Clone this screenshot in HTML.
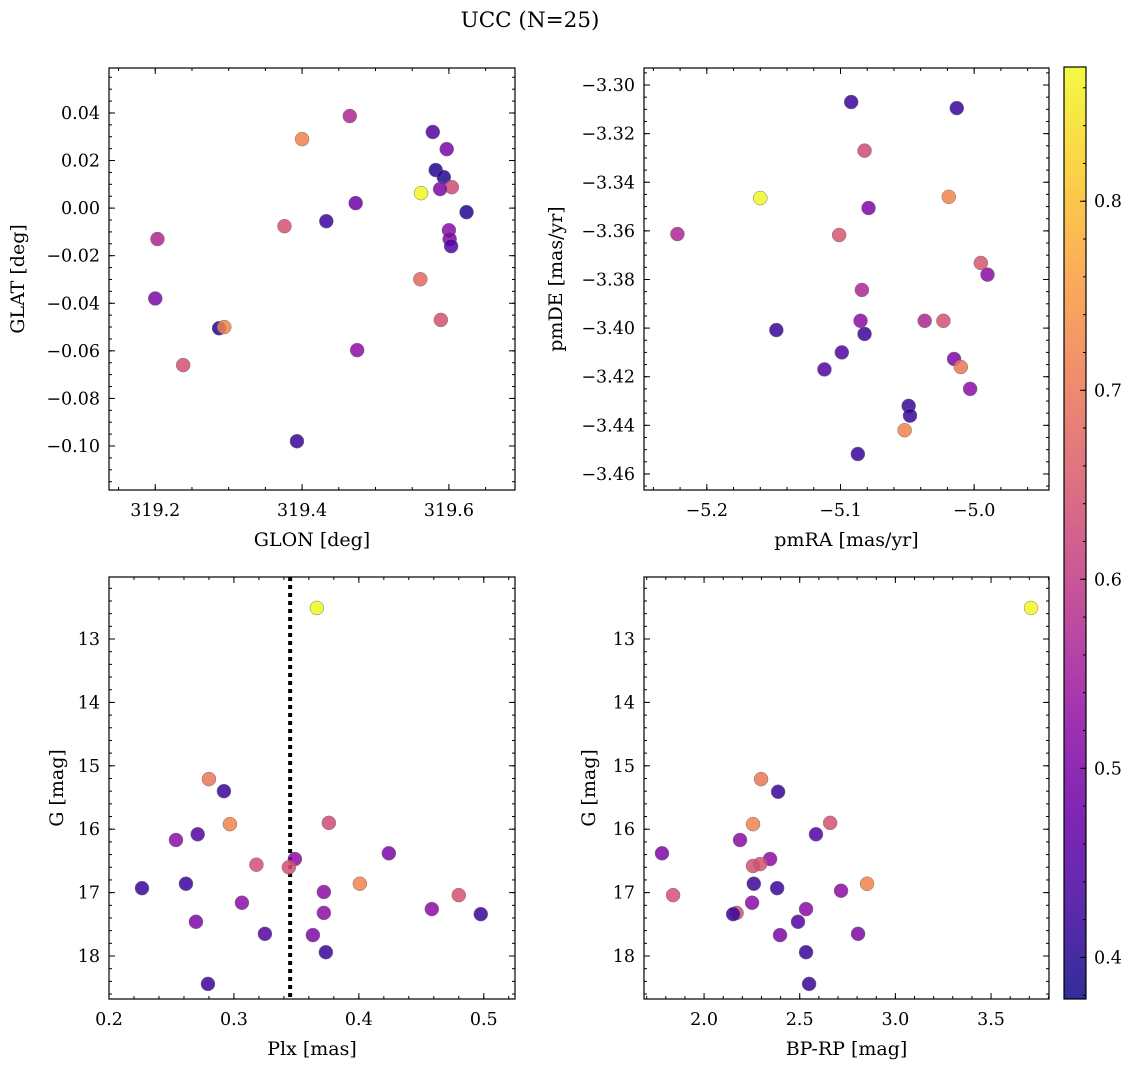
<!DOCTYPE html>
<html><head><meta charset="utf-8"><style>
html,body{margin:0;padding:0;background:#fff}
svg{display:block;font-family:"DejaVu Serif","Liberation Serif",serif}
</style></head><body>
<svg id="fig" width="1136" height="1067" viewBox="0 0 1136 1067" xmlns="http://www.w3.org/2000/svg">
<text x="530" y="27" font-size="21.5" text-anchor="middle">UCC (N=25)</text>
</svg>
<script>
// Panel 1: GLON vs GLAT
const p1X=[319.578,319.465,319.4,319.597,319.582,319.593,319.604,319.562,319.624,319.588,319.473,319.433,319.376,319.6,319.601,319.603,319.203,319.561,319.2,319.287,319.294,319.589,319.475,319.238,319.393];
const p1Y=[0.032,0.0387,0.029,0.0248,0.016,0.013,0.0088,0.0063,-0.0017,0.008,0.0021,-0.0055,-0.0076,-0.0093,-0.013,-0.016,-0.013,-0.0299,-0.038,-0.0505,-0.050,-0.047,-0.0597,-0.066,-0.098];
const p1C=[0.45,0.57,0.72,0.5,0.4,0.4,0.63,0.87,0.4,0.5,0.48,0.42,0.64,0.52,0.5,0.45,0.57,0.68,0.5,0.4,0.72,0.64,0.52,0.64,0.42];
// Panel 2: pmRA vs pmDE
const p2X=[-5.092,-5.013,-5.082,-5.16,-5.019,-5.079,-5.222,-5.101,-4.995,-4.99,-5.084,-5.148,-5.085,-5.082,-5.037,-5.023,-5.099,-5.112,-5.015,-5.01,-5.003,-5.049,-5.048,-5.052,-5.087];
const p2Y=[-3.307,-3.3095,-3.327,-3.3465,-3.346,-3.3506,-3.3613,-3.3617,-3.3732,-3.378,-3.3843,-3.4008,-3.397,-3.4024,-3.397,-3.397,-3.41,-3.417,-3.4127,-3.416,-3.425,-3.432,-3.436,-3.442,-3.4518];
const p2C=[0.42,0.42,0.63,0.87,0.72,0.5,0.57,0.65,0.65,0.52,0.57,0.42,0.52,0.42,0.57,0.64,0.45,0.45,0.5,0.7,0.52,0.42,0.42,0.72,0.42];
// Panel 3: Plx vs G
const p3X=[0.3664,0.28,0.292,0.2968,0.376,0.271,0.2536,0.424,0.3488,0.318,0.344,0.2616,0.4008,0.2264,0.372,0.48,0.3064,0.4584,0.372,0.4976,0.2696,0.3248,0.3632,0.3736,0.2792];
const p3Y=[12.51,15.21,15.40,15.92,15.90,16.08,16.17,16.38,16.47,16.56,16.6,16.86,16.86,16.93,16.99,17.04,17.16,17.26,17.32,17.34,17.46,17.65,17.67,17.94,18.44];
const p3C=[0.87,0.7,0.42,0.72,0.63,0.45,0.52,0.5,0.52,0.64,0.64,0.42,0.72,0.42,0.52,0.64,0.52,0.52,0.52,0.42,0.5,0.45,0.5,0.42,0.42];
const plxLine=0.345;
// Panel 4: BP-RP vs G
const p4X=[3.709,2.298,2.387,2.256,2.659,2.585,2.188,1.78,2.345,2.256,2.293,2.26,2.852,2.382,2.716,1.838,2.251,2.533,2.17,2.152,2.491,2.397,2.805,2.533,2.549];
const p4Y=[12.51,15.21,15.41,15.92,15.9,16.08,16.17,16.38,16.47,16.58,16.55,16.86,16.86,16.93,16.97,17.04,17.16,17.26,17.32,17.34,17.46,17.67,17.65,17.94,18.44];
const p4C=[0.87,0.7,0.42,0.72,0.64,0.45,0.52,0.5,0.52,0.64,0.64,0.42,0.72,0.42,0.52,0.64,0.52,0.52,0.64,0.42,0.45,0.5,0.5,0.42,0.42];
const cbTicks=[0.4,0.5,0.6,0.7,0.8];

const NS="http://www.w3.org/2000/svg";
const svg=document.getElementById('fig');
function el(t,a,p){const e=document.createElementNS(NS,t);for(const k in a)e.setAttribute(k,a[k]);(p||svg).appendChild(e);return e;}
const stops=["#0d0887","#41049d","#6a00a8","#8f0da4","#b12a90","#cc4778","#e16462","#f2844b","#fca636","#fcce25","#f0f921"];
function hex(h){return [1,3,5].map(i=>parseInt(h.substr(i,2),16));}
const cmin=0.378,cmax=0.871;
function plasma(v){let t=(v-cmin)/(cmax-cmin);t=Math.max(0,Math.min(1,t))*10;const i=Math.min(9,Math.floor(t)),f=t-i;const a=hex(stops[i]),b=hex(stops[i+1]);return 'rgb('+a.map((x,k)=>Math.round(x+(b[k]-x)*f)).join(',')+')';}
const TF=17.5, LF=19;

function panel(cfg){
  const {x0,x1,y0,y1,xmin,xmax,ymin,ymax,inv,name}=cfg;
  const g=el('g',{});
  
  
  const sx=v=>x0+(v-xmin)/(xmax-xmin)*(x1-x0);
  const sy=inv?(v=>y0+(v-ymin)/(ymax-ymin)*(y1-y0)):(v=>y1-(v-ymin)/(ymax-ymin)*(y1-y0));
  const dec=(s)=>{const p=(''+s).split('.')[1];return p?p.length:0;};
  const xd=dec(cfg.xmaj), yd=dec(cfg.ymaj);
  function ticks(step,lo,hi){const r=[];let s=Math.ceil(lo/step-1e-6)*step;for(;s<=hi+1e-9;s+=step)r.push(+s.toFixed(6));return r;}
  ticks(cfg.xmin_,xmin,xmax).forEach(v=>{const x=sx(v);el('line',{x1:x,x2:x,y1:y1,y2:y1-3,stroke:'#000','stroke-width':1},g);el('line',{x1:x,x2:x,y1:y0,y2:y0+3,stroke:'#000','stroke-width':1},g);});
  ticks(cfg.ymin_,Math.min(ymin,ymax),Math.max(ymin,ymax)).forEach(v=>{const y=sy(v);el('line',{x1:x0,x2:x0+3,y1:y,y2:y,stroke:'#000','stroke-width':1},g);el('line',{x1:x1,x2:x1-3,y1:y,y2:y,stroke:'#000','stroke-width':1},g);});
  ticks(cfg.xmaj,xmin,xmax).forEach(v=>{const x=sx(v);el('line',{x1:x,x2:x,y1:y1,y2:y1-6,stroke:'#000','stroke-width':1},g);el('line',{x1:x,x2:x,y1:y0,y2:y0+6,stroke:'#000','stroke-width':1},g);
    const t=el('text',{x:x,y:y1+26,'font-size':TF,'text-anchor':'middle'},g);t.textContent=v.toFixed(xd).replace('-','−');});
  ticks(cfg.ymaj,Math.min(ymin,ymax),Math.max(ymin,ymax)).forEach(v=>{const y=sy(v);el('line',{x1:x0,x2:x0+6,y1:y,y2:y,stroke:'#000','stroke-width':1},g);el('line',{x1:x1,x2:x1-6,y1:y,y2:y,stroke:'#000','stroke-width':1},g);
    const t=el('text',{x:x0-9,y:y+6,'font-size':TF,'text-anchor':'end'},g);t.textContent=v.toFixed(yd).replace('-','−');});
  const xl=el('text',{x:(x0+x1)/2,y:y1+56,'font-size':LF,'text-anchor':'middle'},g);xl.textContent=cfg.xlabel;
  
  
  const yl=el('text',{x:0,y:0,'font-size':LF,'text-anchor':'middle',transform:`translate(${cfg.ylx},${(y0+y1)/2}) rotate(-90)`},g);yl.textContent=cfg.ylabel;
  
  
  if(cfg.vline!==undefined){const x=sx(cfg.vline);const l=el('line',{x1:x,x2:x,y1:y0,y2:y1,stroke:'#000','stroke-width':4,'stroke-dasharray':'4,4'},g);
    
    }
  cfg.xs.forEach((v,i)=>{const c=el('circle',{cx:sx(v),cy:sy(cfg.ys[i]),r:7,fill:plasma(cfg.cs[i]),'fill-opacity':0.85,stroke:'#777','stroke-width':0.5},g);
    
    });
  const fr=el('rect',{x:x0,y:y0,width:x1-x0,height:y1-y0,fill:'none',stroke:'#000','stroke-width':1.2},g);
  
  
}
panel({name:'panel-glon-glat',x0:109,x1:515,y0:68,y1:490,xmin:319.137,xmax:319.69,ymin:-0.1185,ymax:0.0589,xmaj:0.2,xmin_:0.05,ymaj:0.02,ymin_:0.005,xs:p1X,ys:p1Y,cs:p1C,xlabel:'GLON [deg]',ylabel:'GLAT [deg]',ylx:24});
panel({name:'panel-pm',x0:644,x1:1049,y0:68,y1:490,xmin:-5.247,xmax:-4.944,ymin:-3.4666,ymax:-3.293,xmaj:0.1,xmin_:0.02,ymaj:0.02,ymin_:0.005,xs:p2X,ys:p2Y,cs:p2C,xlabel:'pmRA [mas/yr]',ylabel:'pmDE [mas/yr]',ylx:562});
panel({name:'panel-plx-g',x0:109,x1:515,y0:577,y1:999,xmin:0.2,xmax:0.525,ymin:12.022,ymax:18.678,inv:true,xmaj:0.1,xmin_:0.02,ymaj:1,ymin_:0.2,xs:p3X,ys:p3Y,cs:p3C,xlabel:'Plx [mas]',ylabel:'G [mag]',ylx:63,vline:plxLine});
panel({name:'panel-cmd',x0:644,x1:1049,y0:577,y1:999,xmin:1.686,xmax:3.803,ymin:12.022,ymax:18.678,inv:true,xmaj:0.5,xmin_:0.1,ymaj:1,ymin_:0.2,xs:p4X,ys:p4Y,cs:p4C,xlabel:'BP-RP [mag]',ylabel:'G [mag]',ylx:595});

// colorbar
const cb=el('g',{});


const defs=el('defs',{},cb);const lg=el('linearGradient',{id:'cbg',x1:0,y1:1,x2:0,y2:0},defs);
for(let i=0;i<=20;i++){const v=cmin+(cmax-cmin)*i/20;el('stop',{offset:i/20,'stop-color':plasma(v),'stop-opacity':0.85},lg);}
const cy0=67,cy1=999,cx0=1064,cx1=1086;const cby=v=>cy1-(v-cmin)/(cmax-cmin)*(cy1-cy0);
el('rect',{x:cx0,y:cy0,width:cx1-cx0,height:cy1-cy0,fill:'url(#cbg)'},cb);
for(let v=0.38;v<=0.87;v+=0.02){const y=cby(v);el('line',{x1:cx1,x2:cx1-3,y1:y,y2:y,stroke:'#000'},cb);}
cbTicks.forEach(v=>{const y=cby(v);el('line',{x1:cx1,x2:cx1-6,y1:y,y2:y,stroke:'#000'},cb);const t=el('text',{x:cx1+8,y:y+6,'font-size':TF},cb);t.textContent=v.toFixed(1);});
el('rect',{x:cx0,y:cy0,width:cx1-cx0,height:cy1-cy0,fill:'none',stroke:'#000','stroke-width':1.2},cb);
</script>
</body></html>
